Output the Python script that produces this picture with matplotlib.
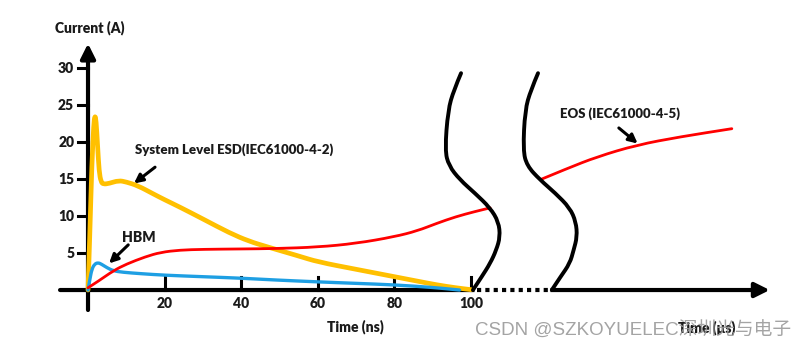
import matplotlib
matplotlib.use("Agg")
import matplotlib.pyplot as plt
from matplotlib.path import Path
from matplotlib.patches import PathPatch

# ESD waveform (ns, A)
esd_t = [0, 0.5, 1.0, 1.5, 1.8, 2.1, 2.5, 2.9, 3.4, 4, 5.5, 8, 10, 13, 17, 20, 24, 30,
         37, 42, 47, 55, 60, 70, 80, 86, 91, 96, 100]
esd_i = [0, 8, 17, 22.5, 23.6, 23.0, 19.5, 16.0, 14.6, 14.3, 14.4, 14.8, 14.6, 14.1, 13,
         12.2, 11.2, 9.6, 7.7, 6.6, 5.8, 4.6, 3.8, 2.8, 1.8, 1.2, 0.7, 0.3, 0.05]

hbm_t = [0, 0.5, 1, 1.7, 2.6, 3.5, 5, 6.6, 9, 14, 20, 30, 40, 49, 60, 70, 80, 90, 95, 97]
hbm_i = [0, 1.5, 2.8, 3.5, 3.7, 3.5, 3.0, 2.6, 2.4, 2.2, 2.0, 1.8, 1.6, 1.35, 1.1,
         0.9, 0.7, 0.35, 0.1, 0]

eos_t = [0, 3, 6.6, 10, 15, 19, 24, 30, 40, 49, 60, 70, 80, 86, 91, 96, 101, 105]
eos_i = [0.3, 1.3, 2.6, 3.5, 4.5, 5.1, 5.4, 5.5, 5.55, 5.6, 5.8, 6.3, 7.2, 8.0,
         9.0, 9.9, 10.6, 11.1]

eos2_t = [118.5, 125, 132.9, 143.3, 154.6, 168.1]
eos2_i = [15.0, 16.4, 18.0, 19.6, 20.7, 21.8]

# break marks
brk1_x = [97.4, 95.5, 94.0, 93.2, 94.2, 97.1, 101, 105.0, 107.2, 107.6, 106.6, 105.0, 102.8, 100.5]
brk2_x = [117.5, 115.6, 114.1, 113.6, 114.6, 118.0, 122, 125.8, 127.4, 127.7, 126.8, 125.8, 123.4, 121.1]
brk_y = [29.3, 27.0, 24.3, 18.9, 16.8, 14.9, 13.1, 11.1, 9.2, 7.2, 5.4, 3.6, 1.8, 0]

y_ticks = [5, 10, 15, 20, 25, 30]
x_ticks = [20, 40, 60, 80, 100]


def smooth(ax, xs, ys, **kw):
    # quadratic bezier through midpoints, points act as control points
    verts = [(xs[0], ys[0])]
    codes = [Path.MOVETO]
    for i in range(1, len(xs) - 1):
        verts += [(xs[i], ys[i]), ((xs[i] + xs[i + 1]) / 2, (ys[i] + ys[i + 1]) / 2)]
        codes += [Path.CURVE3, Path.CURVE3]
    verts.append((xs[-1], ys[-1]))
    codes.append(Path.LINETO)
    ax.add_patch(PathPatch(Path(verts, codes), fill=False, capstyle="round",
                           joinstyle="round", **kw))


fig = plt.figure(figsize=(8.09, 3.53), dpi=100)
ax = fig.add_axes([0, 0, 1, 1])
ax.set_xlim(-22.98, 188.25)
ax.set_ylim(-8.51, 39.19)
ax.axis("off")

font = dict(family="Lato", fontweight="heavy", color="#1a1a1a")

# axes with arrows
ax.annotate("", xy=(178, 0), xytext=(-7.3, 0),
            arrowprops=dict(arrowstyle="-|>", lw=3, color="k", mutation_scale=22,
                            shrinkA=0, shrinkB=0))
ax.annotate("", xy=(0, 33.3), xytext=(0, -2.7),
            arrowprops=dict(arrowstyle="-|>", lw=3, color="k", mutation_scale=22,
                            shrinkA=0, shrinkB=0))
ax.plot([100.8, 120.5], [0, 0], color="white", lw=5, solid_capstyle="butt", zorder=3)
ax.plot([101.5, 120.5], [0, 0], color="k", lw=3, linestyle=(0, (1, 1)),
        solid_capstyle="butt", zorder=4)

for v in y_ticks:
    ax.plot([-2.6, 0], [v, v], color="k", lw=2.2)
    ax.text(-3.6, v, str(v), ha="right", va="center", fontsize=10, **font)
for v in x_ticks:
    ax.plot([v, v], [0, 1.7], color="k", lw=2.2)
    ax.text(v, -1.0, str(v), ha="center", va="top", fontsize=10, **font)

smooth(ax, esd_t, esd_i, edgecolor="#FFC000", lw=3.4, zorder=5)
smooth(ax, eos_t, eos_i, edgecolor="#FF0000", lw=2, zorder=6)
smooth(ax, hbm_t, hbm_i, edgecolor="#1E9FE3", lw=2.4, zorder=5)
smooth(ax, eos2_t, eos2_i, edgecolor="#FF0000", lw=2, zorder=6)
smooth(ax, brk1_x, brk_y, edgecolor="k", lw=2.8, zorder=7)
smooth(ax, brk2_x, brk_y, edgecolor="k", lw=2.8, zorder=7)

arr = dict(arrowstyle="-|>", lw=2.2, color="k", mutation_scale=13, shrinkA=0, shrinkB=0)
ax.annotate("", xy=(12.0, 14.4), xytext=(17.5, 16.6), arrowprops=arr)
ax.annotate("", xy=(5.5, 3.6), xytext=(10.5, 6.1), arrowprops=arr)
ax.annotate("", xy=(143.5, 19.8), xytext=(138.6, 21.9), arrowprops=arr)

ax.text(-8.6, 35.4, "Current (A)", ha="left", va="center", fontsize=10, **font)
ax.text(12.3, 19.0, "System Level ESD(IEC61000-4-2)", ha="left", va="center", fontsize=9.5, **font)
ax.text(8.9, 7.1, "HBM", ha="left", va="center", fontsize=10, **font)
ax.text(123.2, 23.9, "EOS (IEC61000-4-5)", ha="left", va="center", fontsize=9.5, **font)
ax.text(69.7, -5.0, "Time (ns)", ha="center", va="center", fontsize=10, **font)
ax.text(161.5, -5.1, "Time (\u03bcs)", ha="center", va="center", fontsize=10, **font)

ax.text(101.0, -5.5, "CSDN @SZKOYUELEC深圳光与电子", ha="left", va="center", fontsize=13.5,
        color="#9a9a9a", alpha=0.9, family=["Liberation Sans", "Noto Sans CJK SC"], zorder=10)

fig.savefig("out.png", dpi=100)
